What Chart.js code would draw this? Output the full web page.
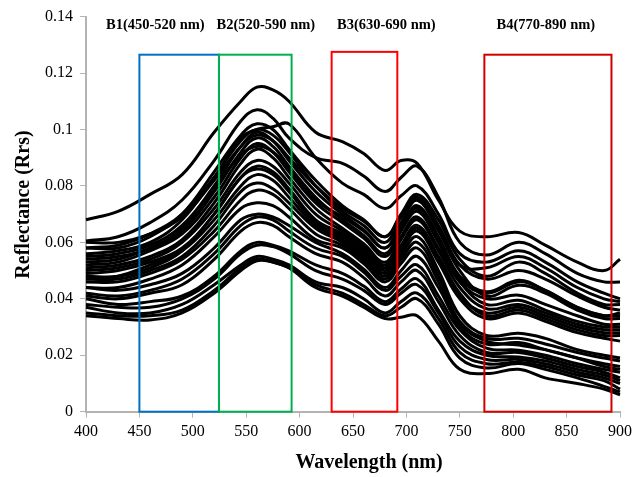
<!DOCTYPE html>
<html><head><meta charset="utf-8">
<script src="https://cdn.jsdelivr.net/npm/chart.js@4"></script>
<style>html,body{margin:0;padding:0;background:#fff}#wrap{width:642px;height:477px}</style>
</head><body><div id="wrap"><canvas id="c" width="642" height="477"></canvas></div>
<script>
// ---- data ----
const wavelengths = [400,430,460,490,520,545,560,575,590,615,640,660,680,695,710,730,750,775,805,830,860,885,900];
const xTickValues = [400,450,500,550,600,650,700,750,800,850,900];
const yTickValues = [0,0.02,0.04,0.06,0.08,0.1,0.12,0.14];
const yTickLabels = ['0','0.02','0.04','0.06','0.08','0.1','0.12','0.14'];

const sA  = [0.068,0.071,0.077,0.084,0.099,0.110,0.115,0.114,0.110,0.099,0.0957,0.0915,0.0855,0.089,0.088,0.075,0.064,0.062,0.0635,0.059,0.053,0.050,0.054];
const sB  = [0.0605,0.062,0.067,0.075,0.089,0.103,0.107,0.104,0.097,0.090,0.088,0.0835,0.078,0.083,0.087,0.076,0.060,0.0555,0.060,0.056,0.049,0.046,0.046];
const sC  = [0.058,0.059,0.063,0.070,0.083,0.097,0.100,0.101,0.102,0.090,0.081,0.077,0.072,0.0765,0.080,0.070,0.056,0.053,0.057,0.053,0.046,0.042,0.040];
const sE1 = [0.060,0.060,0.063,0.069,0.082,0.094,0.098,0.096,0.090,0.080,0.072,0.0675,0.062,0.069,0.075,0.065,0.052,0.051,0.055,0.051,0.044,0.040,0.039];
const sD1 = [0.058,0.058,0.062,0.070,0.085,0.098,0.102,0.100,0.093,0.082,0.073,0.068,0.062,0.070,0.077,0.068,0.054,0.048,0.053,0.049,0.042,0.038,0.038];
const sD2 = [0.056,0.057,0.060,0.068,0.083,0.096,0.100,0.098,0.092,0.080,0.071,0.066,0.060,0.069,0.076,0.066,0.052,0.047,0.050,0.047,0.041,0.037,0.036];
const sE2 = [0.054,0.055,0.058,0.065,0.079,0.091,0.094,0.092,0.086,0.075,0.069,0.064,0.058,0.066,0.072,0.061,0.047,0.042,0.046,0.043,0.037,0.034,0.034];
const sD3 = [0.055,0.056,0.059,0.066,0.080,0.094,0.099,0.096,0.089,0.078,0.070,0.0645,0.058,0.067,0.075,0.064,0.050,0.041,0.0448,0.042,0.036,0.033,0.033];
const sD4 = [0.053,0.054,0.058,0.064,0.078,0.092,0.097,0.094,0.087,0.076,0.068,0.0625,0.056,0.065,0.073,0.062,0.048,0.0425,0.0466,0.043,0.037,0.034,0.035];
const sD5 = [0.052,0.053,0.057,0.063,0.076,0.090,0.095,0.092,0.085,0.074,0.067,0.0615,0.055,0.064,0.071,0.060,0.046,0.040,0.0413,0.038,0.034,0.031,0.031];
const sD6 = [0.051,0.052,0.055,0.061,0.074,0.088,0.093,0.090,0.083,0.072,0.065,0.0595,0.053,0.062,0.069,0.058,0.046,0.038,0.0395,0.036,0.032,0.030,0.030];
const sD7 = [0.050,0.051,0.054,0.060,0.072,0.085,0.089,0.087,0.081,0.070,0.064,0.0585,0.052,0.061,0.068,0.057,0.044,0.0365,0.038,0.035,0.031,0.029,0.029];
const sE3 = [0.048,0.048,0.051,0.057,0.070,0.083,0.086,0.084,0.078,0.067,0.062,0.0565,0.050,0.058,0.065,0.054,0.041,0.035,0.037,0.034,0.030,0.028,0.028];
const sD8 = [0.049,0.050,0.053,0.058,0.070,0.083,0.087,0.085,0.079,0.068,0.063,0.0575,0.051,0.059,0.066,0.055,0.042,0.034,0.036,0.033,0.029,0.027,0.027];
const sD9 = [0.047,0.048,0.052,0.057,0.068,0.080,0.084,0.082,0.076,0.066,0.061,0.0555,0.049,0.057,0.064,0.053,0.040,0.033,0.035,0.032,0.028,0.026,0.025];
const sD10= [0.047,0.047,0.050,0.055,0.066,0.078,0.081,0.079,0.074,0.065,0.060,0.0545,0.048,0.0555,0.062,0.050,0.034,0.027,0.0278,0.026,0.022,0.020,0.019];
const sD11= [0.046,0.046,0.049,0.054,0.064,0.075,0.0785,0.077,0.072,0.063,0.059,0.0535,0.047,0.054,0.060,0.048,0.032,0.026,0.026,0.024,0.021,0.019,0.018];
const sD12= [0.044,0.044,0.047,0.052,0.062,0.072,0.074,0.073,0.069,0.061,0.058,0.0525,0.046,0.0525,0.058,0.046,0.030,0.024,0.0245,0.022,0.019,0.017,0.016];
const sL1 = [0.044,0.043,0.045,0.049,0.058,0.068,0.070,0.069,0.066,0.060,0.056,0.0505,0.044,0.050,0.055,0.044,0.031,0.025,0.0236,0.022,0.019,0.016,0.015];
const sL2 = [0.042,0.041,0.043,0.047,0.056,0.066,0.069,0.068,0.064,0.058,0.055,0.0495,0.043,0.048,0.052,0.041,0.029,0.0225,0.0218,0.020,0.017,0.015,0.014];
const sL3 = [0.041,0.040,0.042,0.045,0.054,0.064,0.067,0.066,0.062,0.056,0.053,0.0475,0.041,0.046,0.050,0.039,0.027,0.021,0.021,0.019,0.016,0.014,0.012];
const sL4 = [0.040,0.038,0.039,0.041,0.048,0.057,0.060,0.059,0.057,0.052,0.049,0.0445,0.039,0.0435,0.047,0.036,0.025,0.020,0.0194,0.018,0.015,0.013,0.011];
const sL5 = [0.038,0.037,0.037,0.040,0.047,0.056,0.059,0.0585,0.056,0.050,0.047,0.043,0.038,0.042,0.045,0.035,0.023,0.0185,0.0185,0.017,0.014,0.012,0.010];
const sL6 = [0.037,0.035,0.035,0.038,0.045,0.052,0.055,0.054,0.052,0.046,0.044,0.040,0.035,0.039,0.042,0.033,0.021,0.017,0.0175,0.016,0.013,0.011,0.008];
const sL7 = [0.035,0.034,0.034,0.036,0.043,0.051,0.054,0.053,0.051,0.045,0.042,0.038,0.034,0.037,0.040,0.031,0.019,0.0155,0.0171,0.015,0.012,0.009,0.007];
const sL8 = [0.034,0.033,0.0325,0.035,0.042,0.050,0.0535,0.053,0.051,0.044,0.041,0.037,0.033,0.0335,0.034,0.025,0.015,0.0135,0.015,0.012,0.010,0.008,0.006];

const seriesList = [sA,sB,sC,sE1,sD1,sD2,sE2,sD3,sD4,sD5,sD6,sD7,sE3,sD8,sD9,sD10,sD11,sD12,sL1,sL2,sL3,sL4,sL5,sL6,sL7,sL8];

// bands
const bandLabels = ['B1(450-520 nm)','B2(520-590 nm)','B3(630-690 nm)','B4(770-890 nm)'];
const bandStart  = [450, 524.5, 630, 773];
const bandEnd    = [524.5, 592.5, 691.5, 892];
const bandTop    = [0.1265, 0.1265, 0.1275, 0.1265];
const bandColors = ['#0070C0','#00B050','#FF0000','#D00000'];
const bandLabelX = [106, 216.5, 337, 496.5];

const xTitle = 'Wavelength (nm)';
const yTitle = 'Reflectance (Rrs)';

// ---- chart ----
const datasets = seriesList.map((s,i)=>({
  label: 'S'+(i+1),
  data: wavelengths.map((w,j)=>({x:w, y:s[j]})),
  borderColor: '#000',
  borderWidth: 3,
  pointRadius: 0,
  tension: 0.4,
  fill: false,
  clip: false
}));

const overlay = {
  id: 'overlay',
  afterDatasetsDraw(chart){
    const {ctx, scales:{x, y}} = chart;
    ctx.save();
    ctx.lineWidth = 2;
    for (let i=0;i<bandStart.length;i++){
      const x0 = x.getPixelForValue(bandStart[i]);
      const x1 = x.getPixelForValue(bandEnd[i]);
      const y0 = y.getPixelForValue(bandTop[i]);
      const y1 = y.getPixelForValue(0);
      ctx.strokeStyle = bandColors[i];
      ctx.strokeRect(x0, y0, x1-x0, y1-y0);
    }
    ctx.fillStyle = '#000';
    ctx.font = 'bold 14.5px "Liberation Serif", "Times New Roman", serif';
    ctx.textBaseline = 'middle';
    ctx.textAlign = 'left';
    bandLabels.forEach((t,i)=>ctx.fillText(t, bandLabelX[i], 25));
    ctx.font = 'bold 20px "Liberation Serif", "Times New Roman", serif';
    ctx.textAlign = 'center';
    ctx.fillText(xTitle, 369, 463);
    ctx.translate(24, 204.5);
    ctx.rotate(-Math.PI/2);
    ctx.fillText(yTitle, 0, 0);
    ctx.restore();
  }
};

const tickFont = {family: '"Liberation Serif", "Times New Roman", serif', size: 16};
new Chart(document.getElementById('c'), {
  type: 'line',
  data: { datasets },
  options: {
    responsive: false,
    animation: false,
    devicePixelRatio: 1,
    layout: { padding: { top: 16, right: 22, bottom: 0, left: 0 } },
    plugins: { legend: {display:false}, tooltip: {enabled:false} },
    scales: {
      x: {
        type: 'linear', min: 400, max: 900,
        afterBuildTicks: s => { s.ticks = xTickValues.map(v=>({value:v})); },
        afterFit: s => { s.height = 65.3; },
        ticks: { font: tickFont, color: '#000', padding: 4, maxRotation: 0, autoSkip: false },
        grid: { display: true, drawOnChartArea: false, drawTicks: true, tickLength: 6, color: '#b3b3b3', lineWidth: 1 },
        border: { display: true, color: '#b3b3b3', width: 2 }
      },
      y: {
        type: 'linear', min: 0, max: 0.14,
        afterBuildTicks: s => { s.ticks = yTickValues.map(v=>({value:v})); },
        afterFit: s => { s.width = 86; },
        ticks: { font: tickFont, color: '#000', padding: 7, autoSkip: false,
          callback: (v) => { const k = yTickValues.findIndex(t=>Math.abs(t-v)<1e-9); return k>=0 ? yTickLabels[k] : ''; } },
        grid: { display: true, drawOnChartArea: false, drawTicks: true, tickLength: 6, color: '#b3b3b3', lineWidth: 1 },
        border: { display: true, color: '#b3b3b3', width: 2 }
      }
    }
  },
  plugins: [overlay]
});
</script>
</body></html>
